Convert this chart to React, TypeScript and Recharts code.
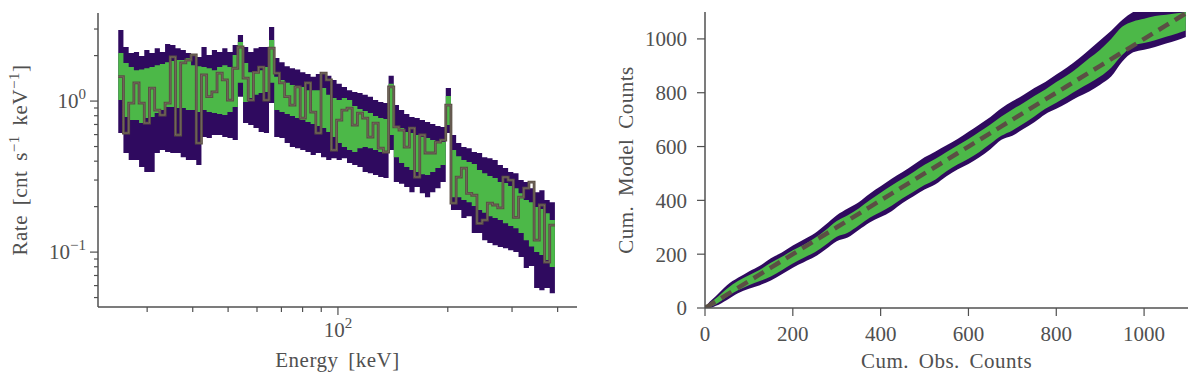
import { ComposedChart, Area, Line, XAxis, YAxis, Label } from 'recharts'

const FONT = '"Liberation Serif", "DejaVu Serif", serif'
const INK = '#505050'
const PURPLE = '#2f0a5f'
const GREEN = '#4cb848'
const MODEL = '#5b4f44'

// left panel: energy bin edges (keV) and rates per bin
const binEdges = [
  25.0, 25.83, 26.7, 27.59, 28.51, 29.46, 30.44, 31.46, 32.51, 33.59, 34.71, 35.87, 37.07, 38.3, 39.58,
  40.9, 42.26, 43.67, 45.13, 46.63, 48.19, 49.79, 51.45, 53.17, 54.94, 56.77, 58.67, 60.62, 62.65, 64.73,
  66.89, 69.12, 71.43, 73.81, 76.27, 78.82, 81.44, 84.16, 86.97, 89.87, 92.86, 95.96, 99.16, 102.47, 105.88,
  109.41, 113.06, 116.83, 120.73, 124.75, 128.91, 133.21, 137.65, 142.24, 146.98, 151.88, 156.95, 162.18,
  167.59, 173.18, 178.95, 184.92, 191.08, 197.46, 204.04, 210.84, 217.87, 225.14, 232.64, 240.4, 248.42,
  256.7, 265.26, 274.1, 283.24, 292.69, 302.45, 312.53, 322.95, 333.72, 344.85, 356.35, 368.23, 380.5, 393.19,
]
const outerHigh = [
  2.95, 2.28, 2.08, 2.11, 1.99, 2.18, 2.08, 2.24, 2.11, 2.39,
  2.35, 2.24, 2.18, 2.08, 2.02, 1.96, 2.28, 2.02, 2.18, 2.11,
  2.24, 2.11, 2.35, 2.74, 2.28, 2.11, 2.24, 2.28, 2.28, 3.09,
  1.93, 1.81, 1.7, 1.65, 1.62, 1.55, 1.51, 1.45, 1.51, 1.51,
  1.47, 1.38, 1.3, 1.24, 1.18, 1.15, 1.13, 1.1, 1.07, 1.015,
  0.985, 0.97, 1.47, 0.941, 0.872, 0.821, 0.784, 0.772, 0.748, 0.726,
  0.705, 0.684, 0.674, 1.22, 0.596, 0.527, 0.496, 0.488, 0.46, 0.453,
  0.425, 0.419, 0.407, 0.377, 0.36, 0.339, 0.333, 0.3, 0.291, 0.265,
  0.249, 0.257, 0.221, 0.214,
]
const innerHigh = [
  2.08, 1.79, 1.68, 1.6, 1.62, 1.65, 1.68, 1.73, 1.76, 1.81,
  1.84, 1.87, 1.87, 1.93, 1.73, 1.7, 1.68, 1.65, 1.6, 1.68,
  1.73, 1.68, 2.02, 2.46, 1.79, 1.55, 1.55, 1.6, 1.68, 2.54,
  1.45, 1.38, 1.32, 1.28, 1.26, 1.24, 1.18, 1.18, 1.18, 1.22,
  1.1, 1.05, 1.015, 1.05, 1.015, 0.927, 0.885, 0.859, 0.833, 0.796,
  0.772, 0.76, 1.3, 0.674, 0.663, 0.623, 0.614, 0.596, 0.578, 0.569,
  0.552, 0.544, 0.535, 1.08, 0.474, 0.432, 0.407, 0.395, 0.383, 0.349,
  0.333, 0.319, 0.31, 0.291, 0.287, 0.274, 0.265, 0.245, 0.221, 0.214,
  0.199, 0.193, 0.181, 0.163,
]
const innerLow = [
  1.015, 0.784, 0.748, 0.748, 0.715, 0.772, 0.784, 0.833, 0.872, 0.913,
  0.913, 0.899, 0.899, 0.872, 0.872, 0.846, 0.872, 0.846, 0.833, 0.821,
  0.808, 0.846, 0.913, 1.32, 0.985, 1.05, 1.1, 1.13, 1.15, 1.32,
  0.872, 0.846, 0.821, 0.796, 0.772, 0.748, 0.726, 0.705, 0.684, 0.663,
  0.623, 0.578, 0.527, 0.496, 0.474, 0.46, 0.488, 0.496, 0.488, 0.474,
  0.46, 0.453, 0.596, 0.425, 0.389, 0.366, 0.349, 0.339, 0.328, 0.324,
  0.339, 0.36, 0.377, 0.694, 0.231, 0.231, 0.221, 0.214, 0.202, 0.19,
  0.182, 0.173, 0.168, 0.163, 0.155, 0.149, 0.144, 0.134, 0.12, 0.109,
  0.1, 0.0955, 0.0885, 0.0797,
]
const outerLow = [
  0.614, 0.453, 0.407, 0.407, 0.366, 0.339, 0.339, 0.453, 0.474, 0.46,
  0.453, 0.453, 0.425, 0.407, 0.407, 0.377, 0.578, 0.569, 0.596, 0.596,
  0.578, 0.569, 0.552, 1.07, 0.715, 0.694, 0.663, 0.623, 0.614, 0.97,
  0.578, 0.569, 0.527, 0.496, 0.488, 0.474, 0.46, 0.439, 0.453, 0.425,
  0.407, 0.419, 0.407, 0.419, 0.389, 0.377, 0.366, 0.339, 0.333, 0.324,
  0.314, 0.309, 0.474, 0.291, 0.283, 0.27, 0.249, 0.27, 0.245, 0.231,
  0.249, 0.265, 0.291, 0.614, 0.19, 0.19, 0.168, 0.173, 0.134, 0.134,
  0.12, 0.115, 0.111, 0.108, 0.106, 0.103, 0.1, 0.0927, 0.0785, 0.0809,
  0.0578, 0.056, 0.0578, 0.0535,
]
const modelRate = [
  1.45, 0.614, 0.97, 1.32, 0.97, 0.715, 1.22, 0.872, 0.808, 0.97,
  1.96, 0.596, 1.79, 1.87, 2.02, 0.527, 1.49, 1.07, 1.15, 1.53,
  1.38, 1.015, 1.65, 2.28, 1.42, 1.015, 1.55, 1.68, 1.015, 2.24,
  1.53, 1.32, 1.07, 0.941, 1.24, 0.772, 1.32, 0.846, 0.614, 1.53,
  1.38, 0.474, 0.748, 0.872, 0.899, 0.694, 0.833, 0.772, 0.578, 0.715,
  0.488, 0.46, 1.24, 0.674, 0.643, 0.496, 0.663, 0.314, 0.596, 0.453,
  0.453, 0.535, 0.552, 0.941, 0.211, 0.314, 0.36, 0.245, 0.238, 0.155,
  0.163, 0.211, 0.205, 0.196, 0.314, 0.3, 0.17, 0.231, 0.265, 0.291,
  0.12, 0.205, 0.0858, 0.151,
]
const energyTicks = [30, 40, 50, 60, 70, 80, 90, 100, 200, 300, 400]
const rateTicks = [
  0.05, 0.06, 0.07, 0.08, 0.09, 0.1, 0.2, 0.3, 0.4, 0.5, 0.6, 0.7, 0.8, 0.9, 1, 2, 3,
]

// right panel: cumulative counts
const obsCounts = [
  0, 10, 25, 50, 75, 100, 125, 150, 175, 200, 225, 250, 275, 300, 325, 350, 375, 400, 425, 450, 475, 500,
  525, 550, 575, 600, 625, 650, 675, 700, 725, 750, 775, 800, 825, 850, 875, 900, 925, 950, 975, 1000,
  1025, 1050, 1075, 1095,
]
const cumOuterLow = [
  0, 0, 8, 30, 55, 72, 85, 102, 125, 150, 170, 190, 218, 248, 262, 290, 318, 338, 360, 390, 415, 440,
  460, 490, 515, 535, 560, 590, 625, 640, 665, 690, 720, 740, 762, 785, 805, 830, 860, 915, 950, 960,
  970, 983, 995, 1007,
]
const cumInnerLow = [
  0, 3, 14, 42, 66, 85, 100, 117, 140, 165, 187, 207, 235, 265, 280, 307, 335, 357, 380, 408, 432, 457,
  478, 508, 533, 555, 580, 610, 640, 660, 685, 712, 740, 763, 787, 812, 835, 860, 893, 940, 975, 985,
  995, 1008, 1020, 1031,
]
const cumInnerHigh = [
  0, 17, 36, 72, 100, 122, 142, 168, 190, 215, 235, 260, 290, 323, 345, 370, 400, 428, 455, 480, 505, 532,
  555, 580, 604, 628, 655, 682, 712, 738, 762, 788, 812, 840, 865, 895, 928, 960, 1000, 1045, 1065, 1075,
  1085, 1090, 1095, 1100,
]
const cumOuterHigh = [
  0, 22, 45, 85, 112, 136, 157, 185, 206, 232, 255, 278, 310, 345, 370, 393, 425, 452, 480, 505, 532, 560,
  582, 605, 628, 655, 682, 710, 742, 768, 792, 818, 840, 868, 895, 925, 960, 995, 1030, 1070, 1100, 1115,
  1130, 1145, 1160, 1170,
]
const cumModel = [
  0, 10, 25, 50, 75, 100, 125, 150, 175, 200, 225, 250, 275, 300, 325, 350, 375, 400, 425, 450, 475, 500,
  525, 550, 575, 600, 625, 650, 675, 700, 725, 750, 775, 800, 825, 850, 875, 900, 925, 950, 975, 1000,
  1025, 1050, 1075, 1095,
]
const countTicks = [0, 200, 400, 600, 800, 1000]

// step series need one extra point at the last edge
const spectrum = binEdges.map((e, i) => {
  const j = Math.min(i, modelRate.length - 1)
  return {
    e,
    outer: [outerLow[j], outerHigh[j]],
    inner: [innerLow[j], innerHigh[j]],
    model: modelRate[j],
  }
})

const cumulative = obsCounts.map((x, i) => ({
  x,
  outer: [cumOuterLow[i], cumOuterHigh[i]],
  inner: [cumInnerLow[i], cumInnerHigh[i]],
  model: cumModel[i],
}))

const textProps = { fontFamily: FONT, fill: INK }

function EnergyTick({ x, y, payload }: any) {
  const major = payload.value === 100
  return (
    <g>
      <line x1={x} x2={x} y1={y} y2={y + (major ? 8 : 5)} stroke={INK} strokeWidth={1.2} />
      {major && (
        <text x={x} y={y + 30} textAnchor="middle" fontSize={21} {...textProps}>
          10<tspan dy={-9} fontSize={15}>2</tspan>
        </text>
      )}
    </g>
  )
}

function RateTick({ x, y, payload }: any) {
  const v = payload.value
  const major = v === 1 || v === 0.1
  return (
    <g>
      <line x1={x - (major ? 8 : 4)} x2={x} y1={y} y2={y} stroke={INK} strokeWidth={1.2} />
      {major && (
        <text x={x - 12} y={y + 7} textAnchor="end" fontSize={21} {...textProps}>
          10<tspan dy={-9} fontSize={15}>{v === 1 ? '0' : '\u22121'}</tspan>
        </text>
      )}
    </g>
  )
}

function BottomTitle({ viewBox, text }: any) {
  const vb = viewBox || { x: 0, y: 0, width: 0 }
  return (
    <text
      x={vb.x + vb.width / 2}
      y={vb.y + 60}
      textAnchor="middle"
      fontSize={21}
      letterSpacing={0.5}
      wordSpacing={4}
      {...textProps}
    >
      {text}
    </text>
  )
}

function SideTitle({ viewBox, children, gap }: any) {
  const vb = viewBox || { x: 0, y: 0, width: 0, height: 0 }
  const bx = vb.x + vb.width - gap
  const cy = vb.y + vb.height / 2
  return (
    <text
      x={bx}
      y={cy}
      transform={`rotate(-90, ${bx}, ${cy})`}
      textAnchor="middle"
      fontSize={21}
      letterSpacing={0.5}
      wordSpacing={4}
      {...textProps}
    >
      {children}
    </text>
  )
}

function SpectrumPanel() {
  return (
    <ComposedChart width={600} height={375} data={spectrum} margin={{ top: 13, right: 23, left: 8, bottom: 8 }}>
      <XAxis
        type="number"
        dataKey="e"
        scale="log"
        domain={[22, 452]}
        allowDataOverflow
        ticks={energyTicks}
        interval={0}
        height={60}
        tickSize={0}
        tickMargin={0}
        tickLine={false}
        tick={<EnergyTick />}
        axisLine={{ stroke: INK, strokeWidth: 1.5 }}
      >
        <Label content={<BottomTitle text="Energy [keV]" />} />
      </XAxis>
      <YAxis
        type="number"
        scale="log"
        domain={[0.0433, 3.83]}
        allowDataOverflow
        ticks={rateTicks}
        interval={0}
        width={90}
        tickSize={0}
        tickMargin={0}
        tickLine={false}
        tick={<RateTick />}
        axisLine={{ stroke: INK, strokeWidth: 1.5 }}
      >
        <Label
          content={
            <SideTitle gap={71}>
              Rate [cnt s<tspan dy={-8} fontSize={15}>{'\u22121'}</tspan>
              <tspan dy={8}> keV</tspan>
              <tspan dy={-8} fontSize={15}>{'\u22121'}</tspan>
              <tspan dy={8}>]</tspan>
            </SideTitle>
          }
        />
      </YAxis>
      <Area type="stepAfter" dataKey="outer" fill={PURPLE} fillOpacity={1} stroke="none" isAnimationActive={false} />
      <Area type="stepAfter" dataKey="inner" fill={GREEN} fillOpacity={1} stroke="none" isAnimationActive={false} />
      <Line type="stepAfter" dataKey="model" stroke={MODEL} strokeWidth={2.8} dot={false} isAnimationActive={false} />
      {/* faint light core on the model step line */}
      <Line
        type="stepAfter"
        dataKey="model"
        stroke="#ffffff"
        strokeOpacity={0.15}
        strokeWidth={0.9}
        dot={false}
        activeDot={false}
        isAnimationActive={false}
      />
    </ComposedChart>
  )
}

function CumulativePanel() {
  const tick = { fontSize: 21, fontFamily: FONT, fill: INK }
  return (
    <ComposedChart width={600} height={375} data={cumulative} margin={{ top: 12, right: 12, left: 10, bottom: 7 }}>
      <XAxis
        type="number"
        dataKey="x"
        domain={[0, 1100]}
        allowDataOverflow
        ticks={countTicks}
        interval={0}
        height={60}
        tickSize={8}
        tickMargin={10}
        tick={tick}
        tickLine={{ stroke: INK, strokeWidth: 1.2 }}
        axisLine={{ stroke: INK, strokeWidth: 1.5 }}
      >
        <Label content={<BottomTitle text="Cum. Obs. Counts" />} />
      </XAxis>
      <YAxis
        type="number"
        domain={[0, 1100]}
        allowDataOverflow
        ticks={countTicks}
        interval={0}
        width={95}
        tickSize={8}
        tickMargin={10}
        tick={tick}
        tickLine={{ stroke: INK, strokeWidth: 1.2 }}
        axisLine={{ stroke: INK, strokeWidth: 1.5 }}
      >
        <Label content={<SideTitle gap={72}>Cum. Model Counts</SideTitle>} />
      </YAxis>
      <Area type="monotone" dataKey="outer" fill={PURPLE} fillOpacity={1} stroke="none" isAnimationActive={false} />
      <Area type="monotone" dataKey="inner" fill={GREEN} fillOpacity={1} stroke="none" isAnimationActive={false} />
      <Line
        type="linear"
        dataKey="model"
        stroke={MODEL}
        strokeWidth={4.5}
        strokeDasharray="12 7"
        dot={false}
        isAnimationActive={false}
      />
    </ComposedChart>
  )
}

export default function App() {
  return (
    <div style={{ position: 'absolute', left: 0, top: 0, width: 1200, height: 375, background: '#fff' }}>
      <div style={{ position: 'absolute', left: 0, top: 0 }}>
        <SpectrumPanel />
      </div>
      <div style={{ position: 'absolute', left: 600, top: 0 }}>
        <CumulativePanel />
      </div>
    </div>
  )
}
